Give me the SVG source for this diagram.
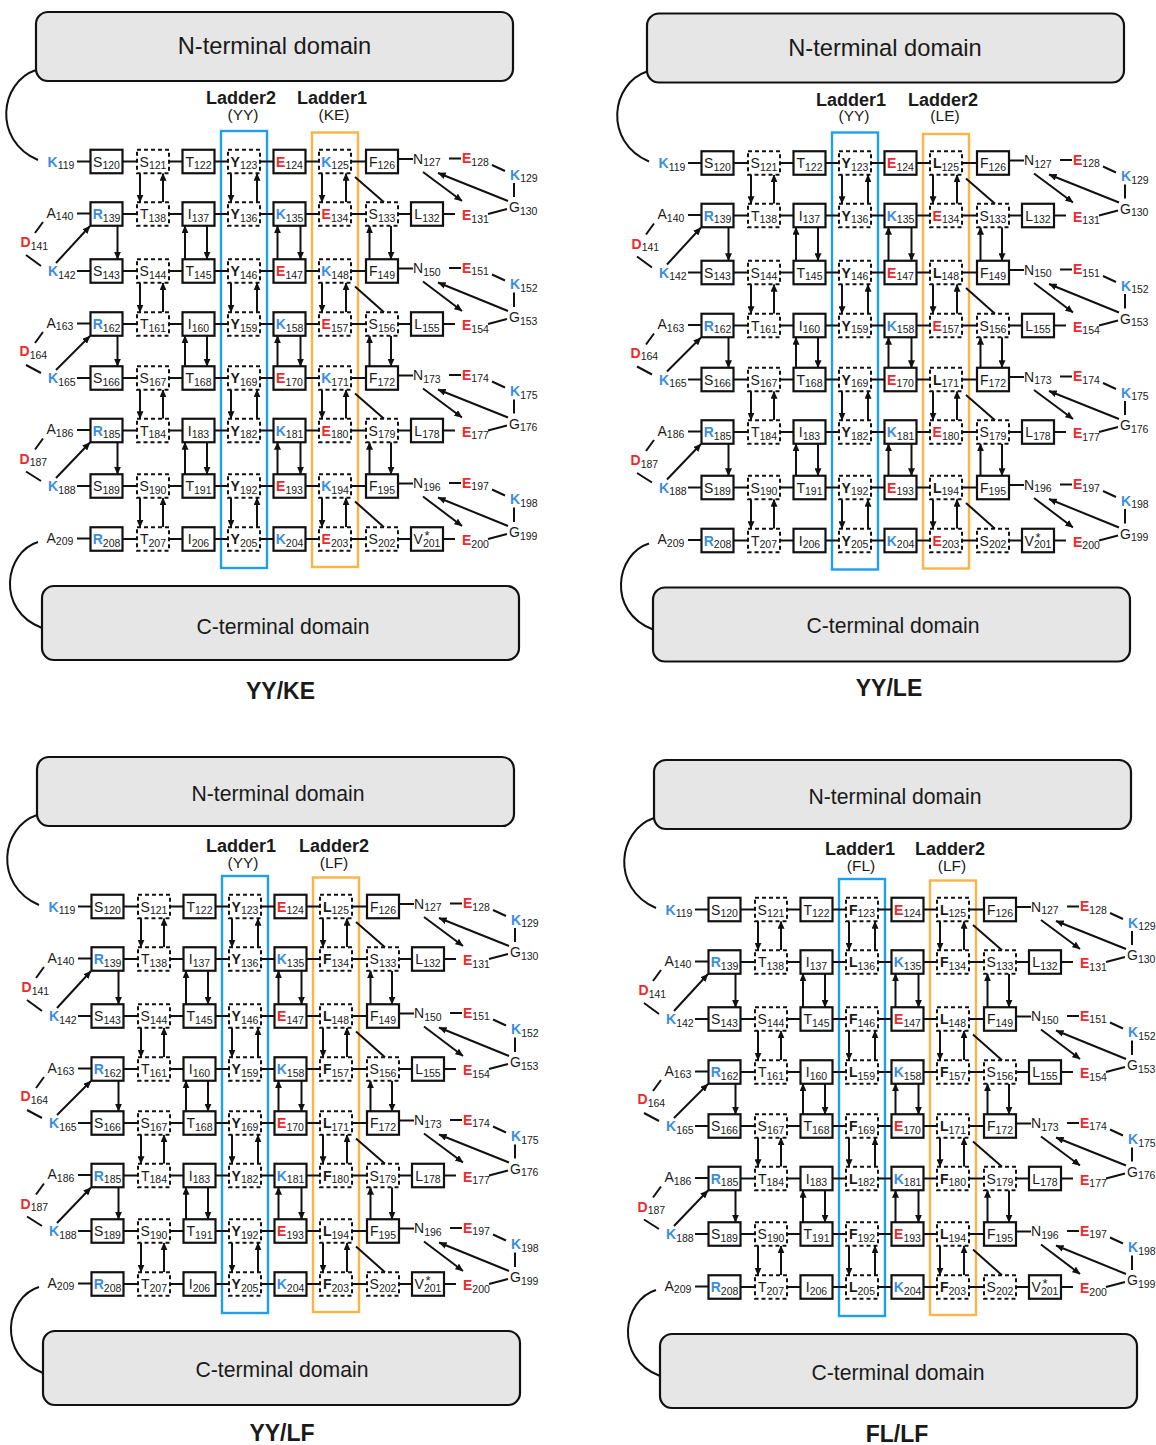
<svg xmlns="http://www.w3.org/2000/svg" xmlns:xlink="http://www.w3.org/1999/xlink" width="1156" height="1445" viewBox="0 0 1156 1445">
<defs>
<style>
text{font-family:"Liberation Sans",Arial,Helvetica,sans-serif;fill:#1a1a1a}
.b{fill:#fff;stroke:#111;stroke-width:2.2}
.d{fill:#fff;stroke:#111;stroke-width:2;stroke-dasharray:4 3}
.dom{fill:#e6e6e6;stroke:#111;stroke-width:2.2}
.ln{fill:none;stroke:#111;stroke-width:2}
.ar{fill:none;stroke:#111;stroke-width:2;marker-end:url(#ah)}
.lb{fill:none;stroke:#1fa0ee;stroke-width:2.4}
.lo{fill:none;stroke:#fdb348;stroke-width:2.4}
.t{font-size:14px;text-anchor:middle}
.l{font-size:14px}
.s{font-size:10.5px;font-weight:normal}
.k{fill:#3b8ede;font-weight:bold}
.e{fill:#ec2a2e;font-weight:bold}
.bd{font-weight:bold}
.ast{font-size:13px;text-anchor:middle}
.hd{font-size:18px;font-weight:bold;text-anchor:middle}
.hs{font-size:15.5px;text-anchor:middle}
.dn{font-size:21.2px;text-anchor:middle}
.dn2{font-size:23.7px;text-anchor:middle}
.ti{font-size:23px;font-weight:bold;text-anchor:middle}
</style>
<marker id="ah" viewBox="0 0 8 7" refX="7.6" refY="3.5" markerWidth="8" markerHeight="7" markerUnits="userSpaceOnUse" orient="auto">
<path d="M0 0L8 3.5L0 7z" fill="#111"/>
</marker>

<!-- shared layout of one β-solenoid panel: frames, connectors and the non-ladder residues -->
<g id="core">
<g id="frames">
<rect class="lb" x="221" y="131" width="46" height="437"/>
<rect class="lo" x="312" y="132.5" width="46" height="434.5"/>
</g>
<g id="connectors">
<!-- tethers to the domains -->
<path class="ln" d="M36 70C0 82 -8 140 38 160"/>
<path class="ln" d="M38 542C5 552 -5 610 42 628"/>
<!-- backbone links along each rung -->
<path class="ln" d="M77 161.5H90.5M122.5 161.5H137M169 161.5H182.5M214.5 161.5H228M260 161.5H273.5M305.5 161.5H319M351 161.5H366M398 159H413M449 158.5H461"/>
<path class="ln" d="M77 213.5H90.5M122.5 214H137M169 214H182.5M214.5 214H228M260 214H273.5M305.5 214H319M351 214H366M398 214H411M443 214H455"/>
<path class="ln" d="M77 271H90.5M122.5 271H137M169 271H182.5M214.5 271H228M260 271H273.5M305.5 271H319M351 271H366M398 268.5H413M449 268H461"/>
<path class="ln" d="M77 323.5H90.5M122.5 324H137M169 324H182.5M214.5 324H228M260 324H273.5M305.5 324H319M351 324H366M398 324H411M443 324H455"/>
<path class="ln" d="M77 378H90.5M122.5 378H137M169 378H182.5M214.5 378H228M260 378H273.5M305.5 378H319M351 378H366M398 375.5H413M449 375H461"/>
<path class="ln" d="M77 430H90.5M122.5 430.5H137M169 430.5H182.5M214.5 430.5H228M260 430.5H273.5M305.5 430.5H319M351 430.5H366M398 430.5H411M443 430.5H455"/>
<path class="ln" d="M77 486H90.5M122.5 486H137M169 486H182.5M214.5 486H228M260 486H273.5M305.5 486H319M351 486H366M398 483.5H413M449 483H461"/>
<path class="ln" d="M77 538.5H90.5M122.5 539H137M169 539H182.5M214.5 539H228M260 539H273.5M305.5 539H319M351 539H366M398 539H411M443 539H455"/>
<!-- turn loops on the right -->
<path class="ln" d="M492 165L505 171M514 183V197M507 209L488 214"/>
<path class="ln" d="M492 274.5L505 280.5M514 292.5V307M507 319L488 324"/>
<path class="ln" d="M492 381.5L505 387.5M514 399.5V413.5M507 425.5L488 430.5"/>
<path class="ln" d="M492 489.5L505 495.5M514 507.5V522M507 534L488 539"/>
<!-- diagonal contacts -->
<path class="ln" d="M355 177L384 202.25M355 286.5L384 312.25M355 393.5L384 418.75M355 501.5L384 527.25"/>
<!-- turn loops on the left -->
<path class="ln" d="M43 222L35 233M26 255L41 266M43 332L35 343M26 365L41 373M43 438.5L35 449.5M26 471.5L41 481"/>
<!-- stacking arrows, rungs 1-2 -->
<path class="ar" d="M140 173.25V202.25"/><path class="ar" d="M163 202.25V173.25"/>
<path class="ar" d="M231 173.25V202.25"/><path class="ar" d="M257 202.25V173.25"/>
<path class="ar" d="M322 173.25V202.25"/><path class="ar" d="M346 202.25V173.25"/>
<path class="ar" d="M423 172L462 201"/><path class="ar" d="M508 201L438 173"/>
<!-- rungs 2-3 -->
<path class="ar" d="M117.5 225.75V259.25"/>
<path class="ar" d="M185 259.25V225.75"/><path class="ar" d="M207 225.75V259.25"/>
<path class="ar" d="M277.5 259.25V225.75"/><path class="ar" d="M300.5 225.75V259.25"/>
<path class="ar" d="M369.5 259.25V225.75"/><path class="ar" d="M391 225.75V259.25"/>
<path class="ar" d="M56 263L90 226"/>
<!-- rungs 3-4 -->
<path class="ar" d="M140 282.75V312.25"/><path class="ar" d="M163 312.25V282.75"/>
<path class="ar" d="M231 282.75V312.25"/><path class="ar" d="M257 312.25V282.75"/>
<path class="ar" d="M322 282.75V312.25"/><path class="ar" d="M346 312.25V282.75"/>
<path class="ar" d="M423 281.5L462 311"/><path class="ar" d="M508 311L438 282.5"/>
<!-- rungs 4-5 -->
<path class="ar" d="M117.5 335.75V366.25"/>
<path class="ar" d="M185 366.25V335.75"/><path class="ar" d="M207 335.75V366.25"/>
<path class="ar" d="M277.5 366.25V335.75"/><path class="ar" d="M300.5 335.75V366.25"/>
<path class="ar" d="M369.5 366.25V335.75"/><path class="ar" d="M391 335.75V366.25"/>
<path class="ar" d="M56 370L90 336"/>
<!-- rungs 5-6 -->
<path class="ar" d="M140 389.75V418.75"/><path class="ar" d="M163 418.75V389.75"/>
<path class="ar" d="M231 389.75V418.75"/><path class="ar" d="M257 418.75V389.75"/>
<path class="ar" d="M322 389.75V418.75"/><path class="ar" d="M346 418.75V389.75"/>
<path class="ar" d="M423 388.5L462 417.5"/><path class="ar" d="M508 417.5L438 389.5"/>
<!-- rungs 6-7 -->
<path class="ar" d="M117.5 442.25V474.25"/>
<path class="ar" d="M185 474.25V442.25"/><path class="ar" d="M207 442.25V474.25"/>
<path class="ar" d="M277.5 474.25V442.25"/><path class="ar" d="M300.5 442.25V474.25"/>
<path class="ar" d="M369.5 474.25V442.25"/><path class="ar" d="M391 442.25V474.25"/>
<path class="ar" d="M56 478L90 442.5"/>
<!-- rungs 7-8 -->
<path class="ar" d="M140 497.75V527.25"/><path class="ar" d="M163 527.25V497.75"/>
<path class="ar" d="M231 497.75V527.25"/><path class="ar" d="M257 527.25V497.75"/>
<path class="ar" d="M322 497.75V527.25"/><path class="ar" d="M346 527.25V497.75"/>
<path class="ar" d="M423 496.5L462 526"/><path class="ar" d="M508 526L438 497.5"/>
</g>

<g id="residues">
<!-- rung 1 -->
<g id="n-k119"><text class="l" x="47.5" y="166.5"><tspan class="k">K</tspan><tspan class="s" dy="2.5">119</tspan></text></g>
<g id="n-s120"><rect class="b" x="90.5" y="149.75" width="32" height="23.5"/><text class="t" x="106.5" y="166.5">S<tspan class="s" dy="2.5">120</tspan></text></g>
<g id="n-s121"><rect class="d" x="137" y="149.75" width="32" height="23.5"/><text class="t" x="153" y="166.5">S<tspan class="s" dy="2.5">121</tspan></text></g>
<g id="n-t122"><rect class="b" x="182.5" y="149.75" width="32" height="23.5"/><text class="t" x="198.5" y="166.5">T<tspan class="s" dy="2.5">122</tspan></text></g>
<g id="n-e124"><rect class="b" x="273.5" y="149.75" width="32" height="23.5"/><text class="t" x="289.5" y="166.5"><tspan class="e">E</tspan><tspan class="s" dy="2.5">124</tspan></text></g>
<g id="n-f126"><rect class="b" x="366" y="149.75" width="32" height="23.5"/><text class="t" x="382" y="166.5">F<tspan class="s" dy="2.5">126</tspan></text></g>
<g id="n-n127"><text class="l" x="413" y="163.5">N<tspan class="s" dy="2.5">127</tspan></text></g>
<g id="n-e128"><text class="l" x="462" y="163"><tspan class="e">E</tspan><tspan class="s" dy="2.5">128</tspan></text></g>
<g id="n-k129"><text class="l" x="510" y="179.5"><tspan class="k">K</tspan><tspan class="s" dy="2.5">129</tspan></text></g>
<!-- rung 2 -->
<g id="n-a140"><text class="l" x="46.5" y="217.5">A<tspan class="s" dy="2.5">140</tspan></text></g>
<g id="n-d141"><text class="l" x="20.5" y="247"><tspan class="e">D</tspan><tspan class="s" dy="2.5">141</tspan></text></g>
<g id="n-r139"><rect class="b" x="90.5" y="202.25" width="32" height="23.5"/><text class="t" x="106.5" y="219"><tspan class="k">R</tspan><tspan class="s" dy="2.5">139</tspan></text></g>
<g id="n-t138"><rect class="d" x="137" y="202.25" width="32" height="23.5"/><text class="t" x="153" y="219">T<tspan class="s" dy="2.5">138</tspan></text></g>
<g id="n-i137"><rect class="b" x="182.5" y="202.25" width="32" height="23.5"/><text class="t" x="198.5" y="219">I<tspan class="s" dy="2.5">137</tspan></text></g>
<g id="n-k135"><rect class="b" x="273.5" y="202.25" width="32" height="23.5"/><text class="t" x="289.5" y="219"><tspan class="k">K</tspan><tspan class="s" dy="2.5">135</tspan></text></g>
<g id="n-s133"><rect class="d" x="366" y="202.25" width="32" height="23.5"/><text class="t" x="382" y="219">S<tspan class="s" dy="2.5">133</tspan></text></g>
<g id="n-l132"><rect class="b" x="411" y="202.25" width="32" height="23.5"/><text class="t" x="427" y="219">L<tspan class="s" dy="2.5">132</tspan></text></g>
<g id="n-e131"><text class="l" x="462" y="220"><tspan class="e">E</tspan><tspan class="s" dy="2.5">131</tspan></text></g>
<g id="n-g130"><text class="l" x="509" y="212">G<tspan class="s" dy="2.5">130</tspan></text></g>
<!-- rung 3 -->
<g id="n-k142"><text class="l" x="48" y="276"><tspan class="k">K</tspan><tspan class="s" dy="2.5">142</tspan></text></g>
<g id="n-s143"><rect class="b" x="90.5" y="259.25" width="32" height="23.5"/><text class="t" x="106.5" y="276">S<tspan class="s" dy="2.5">143</tspan></text></g>
<g id="n-s144"><rect class="d" x="137" y="259.25" width="32" height="23.5"/><text class="t" x="153" y="276">S<tspan class="s" dy="2.5">144</tspan></text></g>
<g id="n-t145"><rect class="b" x="182.5" y="259.25" width="32" height="23.5"/><text class="t" x="198.5" y="276">T<tspan class="s" dy="2.5">145</tspan></text></g>
<g id="n-e147"><rect class="b" x="273.5" y="259.25" width="32" height="23.5"/><text class="t" x="289.5" y="276"><tspan class="e">E</tspan><tspan class="s" dy="2.5">147</tspan></text></g>
<g id="n-f149"><rect class="b" x="366" y="259.25" width="32" height="23.5"/><text class="t" x="382" y="276">F<tspan class="s" dy="2.5">149</tspan></text></g>
<g id="n-n150"><text class="l" x="413" y="273">N<tspan class="s" dy="2.5">150</tspan></text></g>
<g id="n-e151"><text class="l" x="462" y="272.5"><tspan class="e">E</tspan><tspan class="s" dy="2.5">151</tspan></text></g>
<g id="n-k152"><text class="l" x="510" y="289"><tspan class="k">K</tspan><tspan class="s" dy="2.5">152</tspan></text></g>
<!-- rung 4 -->
<g id="n-a163"><text class="l" x="46.5" y="327.5">A<tspan class="s" dy="2.5">163</tspan></text></g>
<g id="n-d164"><text class="l" x="19.5" y="356"><tspan class="e">D</tspan><tspan class="s" dy="2.5">164</tspan></text></g>
<g id="n-r162"><rect class="b" x="90.5" y="312.25" width="32" height="23.5"/><text class="t" x="106.5" y="329"><tspan class="k">R</tspan><tspan class="s" dy="2.5">162</tspan></text></g>
<g id="n-t161"><rect class="d" x="137" y="312.25" width="32" height="23.5"/><text class="t" x="153" y="329">T<tspan class="s" dy="2.5">161</tspan></text></g>
<g id="n-i160"><rect class="b" x="182.5" y="312.25" width="32" height="23.5"/><text class="t" x="198.5" y="329">I<tspan class="s" dy="2.5">160</tspan></text></g>
<g id="n-k158"><rect class="b" x="273.5" y="312.25" width="32" height="23.5"/><text class="t" x="289.5" y="329"><tspan class="k">K</tspan><tspan class="s" dy="2.5">158</tspan></text></g>
<g id="n-s156"><rect class="d" x="366" y="312.25" width="32" height="23.5"/><text class="t" x="382" y="329">S<tspan class="s" dy="2.5">156</tspan></text></g>
<g id="n-l155"><rect class="b" x="411" y="312.25" width="32" height="23.5"/><text class="t" x="427" y="329">L<tspan class="s" dy="2.5">155</tspan></text></g>
<g id="n-e154"><text class="l" x="462" y="330"><tspan class="e">E</tspan><tspan class="s" dy="2.5">154</tspan></text></g>
<g id="n-g153"><text class="l" x="509" y="322">G<tspan class="s" dy="2.5">153</tspan></text></g>
<!-- rung 5 -->
<g id="n-k165"><text class="l" x="48" y="383"><tspan class="k">K</tspan><tspan class="s" dy="2.5">165</tspan></text></g>
<g id="n-s166"><rect class="b" x="90.5" y="366.25" width="32" height="23.5"/><text class="t" x="106.5" y="383">S<tspan class="s" dy="2.5">166</tspan></text></g>
<g id="n-s167"><rect class="d" x="137" y="366.25" width="32" height="23.5"/><text class="t" x="153" y="383">S<tspan class="s" dy="2.5">167</tspan></text></g>
<g id="n-t168"><rect class="b" x="182.5" y="366.25" width="32" height="23.5"/><text class="t" x="198.5" y="383">T<tspan class="s" dy="2.5">168</tspan></text></g>
<g id="n-e170"><rect class="b" x="273.5" y="366.25" width="32" height="23.5"/><text class="t" x="289.5" y="383"><tspan class="e">E</tspan><tspan class="s" dy="2.5">170</tspan></text></g>
<g id="n-f172"><rect class="b" x="366" y="366.25" width="32" height="23.5"/><text class="t" x="382" y="383">F<tspan class="s" dy="2.5">172</tspan></text></g>
<g id="n-n173"><text class="l" x="413" y="380">N<tspan class="s" dy="2.5">173</tspan></text></g>
<g id="n-e174"><text class="l" x="462" y="379.5"><tspan class="e">E</tspan><tspan class="s" dy="2.5">174</tspan></text></g>
<g id="n-k175"><text class="l" x="510" y="396"><tspan class="k">K</tspan><tspan class="s" dy="2.5">175</tspan></text></g>
<!-- rung 6 -->
<g id="n-a186"><text class="l" x="46.5" y="434">A<tspan class="s" dy="2.5">186</tspan></text></g>
<g id="n-d187"><text class="l" x="19.5" y="463.5"><tspan class="e">D</tspan><tspan class="s" dy="2.5">187</tspan></text></g>
<g id="n-r185"><rect class="b" x="90.5" y="418.75" width="32" height="23.5"/><text class="t" x="106.5" y="435.5"><tspan class="k">R</tspan><tspan class="s" dy="2.5">185</tspan></text></g>
<g id="n-t184"><rect class="d" x="137" y="418.75" width="32" height="23.5"/><text class="t" x="153" y="435.5">T<tspan class="s" dy="2.5">184</tspan></text></g>
<g id="n-i183"><rect class="b" x="182.5" y="418.75" width="32" height="23.5"/><text class="t" x="198.5" y="435.5">I<tspan class="s" dy="2.5">183</tspan></text></g>
<g id="n-k181"><rect class="b" x="273.5" y="418.75" width="32" height="23.5"/><text class="t" x="289.5" y="435.5"><tspan class="k">K</tspan><tspan class="s" dy="2.5">181</tspan></text></g>
<g id="n-s179"><rect class="d" x="366" y="418.75" width="32" height="23.5"/><text class="t" x="382" y="435.5">S<tspan class="s" dy="2.5">179</tspan></text></g>
<g id="n-l178"><rect class="b" x="411" y="418.75" width="32" height="23.5"/><text class="t" x="427" y="435.5">L<tspan class="s" dy="2.5">178</tspan></text></g>
<g id="n-e177"><text class="l" x="462" y="436.5"><tspan class="e">E</tspan><tspan class="s" dy="2.5">177</tspan></text></g>
<g id="n-g176"><text class="l" x="509" y="428.5">G<tspan class="s" dy="2.5">176</tspan></text></g>
<!-- rung 7 -->
<g id="n-k188"><text class="l" x="48" y="491"><tspan class="k">K</tspan><tspan class="s" dy="2.5">188</tspan></text></g>
<g id="n-s189"><rect class="b" x="90.5" y="474.25" width="32" height="23.5"/><text class="t" x="106.5" y="491">S<tspan class="s" dy="2.5">189</tspan></text></g>
<g id="n-s190"><rect class="d" x="137" y="474.25" width="32" height="23.5"/><text class="t" x="153" y="491">S<tspan class="s" dy="2.5">190</tspan></text></g>
<g id="n-t191"><rect class="b" x="182.5" y="474.25" width="32" height="23.5"/><text class="t" x="198.5" y="491">T<tspan class="s" dy="2.5">191</tspan></text></g>
<g id="n-e193"><rect class="b" x="273.5" y="474.25" width="32" height="23.5"/><text class="t" x="289.5" y="491"><tspan class="e">E</tspan><tspan class="s" dy="2.5">193</tspan></text></g>
<g id="n-f195"><rect class="b" x="366" y="474.25" width="32" height="23.5"/><text class="t" x="382" y="491">F<tspan class="s" dy="2.5">195</tspan></text></g>
<g id="n-n196"><text class="l" x="413" y="488">N<tspan class="s" dy="2.5">196</tspan></text></g>
<g id="n-e197"><text class="l" x="462" y="487.5"><tspan class="e">E</tspan><tspan class="s" dy="2.5">197</tspan></text></g>
<g id="n-k198"><text class="l" x="510" y="504"><tspan class="k">K</tspan><tspan class="s" dy="2.5">198</tspan></text></g>
<!-- rung 8 -->
<g id="n-a209"><text class="l" x="46.5" y="542.5">A<tspan class="s" dy="2.5">209</tspan></text></g>
<g id="n-r208"><rect class="b" x="90.5" y="527.25" width="32" height="23.5"/><text class="t" x="106.5" y="544"><tspan class="k">R</tspan><tspan class="s" dy="2.5">208</tspan></text></g>
<g id="n-t207"><rect class="d" x="137" y="527.25" width="32" height="23.5"/><text class="t" x="153" y="544">T<tspan class="s" dy="2.5">207</tspan></text></g>
<g id="n-i206"><rect class="b" x="182.5" y="527.25" width="32" height="23.5"/><text class="t" x="198.5" y="544">I<tspan class="s" dy="2.5">206</tspan></text></g>
<g id="n-k204"><rect class="b" x="273.5" y="527.25" width="32" height="23.5"/><text class="t" x="289.5" y="544"><tspan class="k">K</tspan><tspan class="s" dy="2.5">204</tspan></text></g>
<g id="n-s202"><rect class="d" x="366" y="527.25" width="32" height="23.5"/><text class="t" x="382" y="544">S<tspan class="s" dy="2.5">202</tspan></text></g>
<g id="n-v201"><rect class="b" x="411" y="527.25" width="32" height="23.5"/><text class="t" x="427" y="544">V<tspan class="s" dy="2.5">201</tspan></text><text class="ast" x="427" y="540">*</text></g>
<g id="n-e200"><text class="l" x="462" y="545"><tspan class="e">E</tspan><tspan class="s" dy="2.5">200</tspan></text></g>
<g id="n-g199"><text class="l" x="509" y="537">G<tspan class="s" dy="2.5">199</tspan></text></g>
</g>
</g>
</defs>

<rect width="1156" height="1445" fill="#fff"/>

<!-- YY/KE -->
<g id="panel-yy-ke">
<g id="p1-nterm"><rect class="dom" x="36" y="12" width="477" height="69" rx="12"/><text class="dn2" x="274.5" y="53.5">N-terminal domain</text></g>
<use href="#core" xlink:href="#core"/>
<g id="p1-cterm"><rect class="dom" x="42" y="586" width="477" height="74" rx="12"/><text class="dn" x="283" y="633.5">C-terminal domain</text></g>
<g id="p1-headers"><text class="hd" x="241" y="104">Ladder2</text><text class="hs" x="243" y="119.5">(YY)</text><text class="hd" x="332" y="104">Ladder1</text><text class="hs" x="334" y="119.5">(KE)</text></g>
<g id="p1-y123"><rect class="d" x="228" y="149.75" width="32" height="23.5"/><text class="t" x="244" y="166.5"><tspan class="bd">Y</tspan><tspan class="s" dy="2.5">123</tspan></text></g>
<g id="p1-y136"><rect class="d" x="228" y="202.25" width="32" height="23.5"/><text class="t" x="244" y="219"><tspan class="bd">Y</tspan><tspan class="s" dy="2.5">136</tspan></text></g>
<g id="p1-y146"><rect class="d" x="228" y="259.25" width="32" height="23.5"/><text class="t" x="244" y="276"><tspan class="bd">Y</tspan><tspan class="s" dy="2.5">146</tspan></text></g>
<g id="p1-y159"><rect class="d" x="228" y="312.25" width="32" height="23.5"/><text class="t" x="244" y="329"><tspan class="bd">Y</tspan><tspan class="s" dy="2.5">159</tspan></text></g>
<g id="p1-y169"><rect class="d" x="228" y="366.25" width="32" height="23.5"/><text class="t" x="244" y="383"><tspan class="bd">Y</tspan><tspan class="s" dy="2.5">169</tspan></text></g>
<g id="p1-y182"><rect class="d" x="228" y="418.75" width="32" height="23.5"/><text class="t" x="244" y="435.5"><tspan class="bd">Y</tspan><tspan class="s" dy="2.5">182</tspan></text></g>
<g id="p1-y192"><rect class="d" x="228" y="474.25" width="32" height="23.5"/><text class="t" x="244" y="491"><tspan class="bd">Y</tspan><tspan class="s" dy="2.5">192</tspan></text></g>
<g id="p1-y205"><rect class="d" x="228" y="527.25" width="32" height="23.5"/><text class="t" x="244" y="544"><tspan class="bd">Y</tspan><tspan class="s" dy="2.5">205</tspan></text></g>
<g id="p1-k125"><rect class="d" x="319" y="149.75" width="32" height="23.5"/><text class="t" x="335" y="166.5"><tspan class="k">K</tspan><tspan class="s" dy="2.5">125</tspan></text></g>
<g id="p1-e134"><rect class="d" x="319" y="202.25" width="32" height="23.5"/><text class="t" x="335" y="219"><tspan class="e">E</tspan><tspan class="s" dy="2.5">134</tspan></text></g>
<g id="p1-k148"><rect class="d" x="319" y="259.25" width="32" height="23.5"/><text class="t" x="335" y="276"><tspan class="k">K</tspan><tspan class="s" dy="2.5">148</tspan></text></g>
<g id="p1-e157"><rect class="d" x="319" y="312.25" width="32" height="23.5"/><text class="t" x="335" y="329"><tspan class="e">E</tspan><tspan class="s" dy="2.5">157</tspan></text></g>
<g id="p1-k171"><rect class="d" x="319" y="366.25" width="32" height="23.5"/><text class="t" x="335" y="383"><tspan class="k">K</tspan><tspan class="s" dy="2.5">171</tspan></text></g>
<g id="p1-e180"><rect class="d" x="319" y="418.75" width="32" height="23.5"/><text class="t" x="335" y="435.5"><tspan class="e">E</tspan><tspan class="s" dy="2.5">180</tspan></text></g>
<g id="p1-k194"><rect class="d" x="319" y="474.25" width="32" height="23.5"/><text class="t" x="335" y="491"><tspan class="k">K</tspan><tspan class="s" dy="2.5">194</tspan></text></g>
<g id="p1-e203"><rect class="d" x="319" y="527.25" width="32" height="23.5"/><text class="t" x="335" y="544"><tspan class="e">E</tspan><tspan class="s" dy="2.5">203</tspan></text></g>
<text id="p1-title" class="ti" x="280.5" y="699">YY/KE</text>
</g>

<!-- YY/LE -->
<g id="panel-yy-le" transform="translate(611 1.5)">
<g id="p2-nterm"><rect class="dom" x="36" y="12" width="477" height="69" rx="12"/><text class="dn2" x="274" y="54">N-terminal domain</text></g>
<use href="#core" xlink:href="#core"/>
<g id="p2-cterm"><rect class="dom" x="42" y="586" width="477" height="74" rx="12"/><text class="dn" x="282" y="631">C-terminal domain</text></g>
<g id="p2-headers"><text class="hd" x="240" y="104">Ladder1</text><text class="hs" x="243" y="119.5">(YY)</text><text class="hd" x="332" y="104">Ladder2</text><text class="hs" x="334" y="119.5">(LE)</text></g>
<g id="p2-y123"><rect class="d" x="228" y="149.75" width="32" height="23.5"/><text class="t" x="244" y="166.5"><tspan class="bd">Y</tspan><tspan class="s" dy="2.5">123</tspan></text></g>
<g id="p2-y136"><rect class="d" x="228" y="202.25" width="32" height="23.5"/><text class="t" x="244" y="219"><tspan class="bd">Y</tspan><tspan class="s" dy="2.5">136</tspan></text></g>
<g id="p2-y146"><rect class="d" x="228" y="259.25" width="32" height="23.5"/><text class="t" x="244" y="276"><tspan class="bd">Y</tspan><tspan class="s" dy="2.5">146</tspan></text></g>
<g id="p2-y159"><rect class="d" x="228" y="312.25" width="32" height="23.5"/><text class="t" x="244" y="329"><tspan class="bd">Y</tspan><tspan class="s" dy="2.5">159</tspan></text></g>
<g id="p2-y169"><rect class="d" x="228" y="366.25" width="32" height="23.5"/><text class="t" x="244" y="383"><tspan class="bd">Y</tspan><tspan class="s" dy="2.5">169</tspan></text></g>
<g id="p2-y182"><rect class="d" x="228" y="418.75" width="32" height="23.5"/><text class="t" x="244" y="435.5"><tspan class="bd">Y</tspan><tspan class="s" dy="2.5">182</tspan></text></g>
<g id="p2-y192"><rect class="d" x="228" y="474.25" width="32" height="23.5"/><text class="t" x="244" y="491"><tspan class="bd">Y</tspan><tspan class="s" dy="2.5">192</tspan></text></g>
<g id="p2-y205"><rect class="d" x="228" y="527.25" width="32" height="23.5"/><text class="t" x="244" y="544"><tspan class="bd">Y</tspan><tspan class="s" dy="2.5">205</tspan></text></g>
<g id="p2-l125"><rect class="d" x="319" y="149.75" width="32" height="23.5"/><text class="t" x="335" y="166.5"><tspan class="bd">L</tspan><tspan class="s" dy="2.5">125</tspan></text></g>
<g id="p2-e134"><rect class="d" x="319" y="202.25" width="32" height="23.5"/><text class="t" x="335" y="219"><tspan class="e">E</tspan><tspan class="s" dy="2.5">134</tspan></text></g>
<g id="p2-l148"><rect class="d" x="319" y="259.25" width="32" height="23.5"/><text class="t" x="335" y="276"><tspan class="bd">L</tspan><tspan class="s" dy="2.5">148</tspan></text></g>
<g id="p2-e157"><rect class="d" x="319" y="312.25" width="32" height="23.5"/><text class="t" x="335" y="329"><tspan class="e">E</tspan><tspan class="s" dy="2.5">157</tspan></text></g>
<g id="p2-l171"><rect class="d" x="319" y="366.25" width="32" height="23.5"/><text class="t" x="335" y="383"><tspan class="bd">L</tspan><tspan class="s" dy="2.5">171</tspan></text></g>
<g id="p2-e180"><rect class="d" x="319" y="418.75" width="32" height="23.5"/><text class="t" x="335" y="435.5"><tspan class="e">E</tspan><tspan class="s" dy="2.5">180</tspan></text></g>
<g id="p2-l194"><rect class="d" x="319" y="474.25" width="32" height="23.5"/><text class="t" x="335" y="491"><tspan class="bd">L</tspan><tspan class="s" dy="2.5">194</tspan></text></g>
<g id="p2-e203"><rect class="d" x="319" y="527.25" width="32" height="23.5"/><text class="t" x="335" y="544"><tspan class="e">E</tspan><tspan class="s" dy="2.5">203</tspan></text></g>
<text id="p2-title" class="ti" x="278" y="694.5">YY/LE</text>
</g>

<!-- YY/LF -->
<g id="panel-yy-lf" transform="translate(1 745)">
<g id="p3-nterm"><rect class="dom" x="36" y="12" width="477" height="69" rx="12"/><text class="dn" x="277" y="55.5">N-terminal domain</text></g>
<use href="#core" xlink:href="#core"/>
<g id="p3-cterm"><rect class="dom" x="42" y="586" width="477" height="74" rx="12"/><text class="dn" x="281" y="631.5">C-terminal domain</text></g>
<g id="p3-headers"><text class="hd" x="240" y="107">Ladder1</text><text class="hs" x="242" y="122.5">(YY)</text><text class="hd" x="333" y="107">Ladder2</text><text class="hs" x="333" y="122.5">(LF)</text></g>
<g id="p3-y123"><rect class="d" x="228" y="149.75" width="32" height="23.5"/><text class="t" x="244" y="166.5"><tspan class="bd">Y</tspan><tspan class="s" dy="2.5">123</tspan></text></g>
<g id="p3-y136"><rect class="d" x="228" y="202.25" width="32" height="23.5"/><text class="t" x="244" y="219"><tspan class="bd">Y</tspan><tspan class="s" dy="2.5">136</tspan></text></g>
<g id="p3-y146"><rect class="d" x="228" y="259.25" width="32" height="23.5"/><text class="t" x="244" y="276"><tspan class="bd">Y</tspan><tspan class="s" dy="2.5">146</tspan></text></g>
<g id="p3-y159"><rect class="d" x="228" y="312.25" width="32" height="23.5"/><text class="t" x="244" y="329"><tspan class="bd">Y</tspan><tspan class="s" dy="2.5">159</tspan></text></g>
<g id="p3-y169"><rect class="d" x="228" y="366.25" width="32" height="23.5"/><text class="t" x="244" y="383"><tspan class="bd">Y</tspan><tspan class="s" dy="2.5">169</tspan></text></g>
<g id="p3-y182"><rect class="d" x="228" y="418.75" width="32" height="23.5"/><text class="t" x="244" y="435.5"><tspan class="bd">Y</tspan><tspan class="s" dy="2.5">182</tspan></text></g>
<g id="p3-y192"><rect class="d" x="228" y="474.25" width="32" height="23.5"/><text class="t" x="244" y="491"><tspan class="bd">Y</tspan><tspan class="s" dy="2.5">192</tspan></text></g>
<g id="p3-y205"><rect class="d" x="228" y="527.25" width="32" height="23.5"/><text class="t" x="244" y="544"><tspan class="bd">Y</tspan><tspan class="s" dy="2.5">205</tspan></text></g>
<g id="p3-l125"><rect class="d" x="319" y="149.75" width="32" height="23.5"/><text class="t" x="335" y="166.5"><tspan class="bd">L</tspan><tspan class="s" dy="2.5">125</tspan></text></g>
<g id="p3-f134"><rect class="d" x="319" y="202.25" width="32" height="23.5"/><text class="t" x="335" y="219"><tspan class="bd">F</tspan><tspan class="s" dy="2.5">134</tspan></text></g>
<g id="p3-l148"><rect class="d" x="319" y="259.25" width="32" height="23.5"/><text class="t" x="335" y="276"><tspan class="bd">L</tspan><tspan class="s" dy="2.5">148</tspan></text></g>
<g id="p3-f157"><rect class="d" x="319" y="312.25" width="32" height="23.5"/><text class="t" x="335" y="329"><tspan class="bd">F</tspan><tspan class="s" dy="2.5">157</tspan></text></g>
<g id="p3-l171"><rect class="d" x="319" y="366.25" width="32" height="23.5"/><text class="t" x="335" y="383"><tspan class="bd">L</tspan><tspan class="s" dy="2.5">171</tspan></text></g>
<g id="p3-f180"><rect class="d" x="319" y="418.75" width="32" height="23.5"/><text class="t" x="335" y="435.5"><tspan class="bd">F</tspan><tspan class="s" dy="2.5">180</tspan></text></g>
<g id="p3-l194"><rect class="d" x="319" y="474.25" width="32" height="23.5"/><text class="t" x="335" y="491"><tspan class="bd">L</tspan><tspan class="s" dy="2.5">194</tspan></text></g>
<g id="p3-f203"><rect class="d" x="319" y="527.25" width="32" height="23.5"/><text class="t" x="335" y="544"><tspan class="bd">F</tspan><tspan class="s" dy="2.5">203</tspan></text></g>
<text id="p3-title" class="ti" x="281" y="696">YY/LF</text>
</g>

<!-- FL/LF -->
<g id="panel-fl-lf" transform="translate(618 748)">
<g id="p4-nterm"><rect class="dom" x="36" y="12" width="477" height="69" rx="12"/><text class="dn" x="277" y="55.5">N-terminal domain</text></g>
<use href="#core" xlink:href="#core"/>
<g id="p4-cterm"><rect class="dom" x="42" y="586" width="477" height="74" rx="12"/><text class="dn" x="280" y="631.5">C-terminal domain</text></g>
<g id="p4-headers"><text class="hd" x="242" y="107">Ladder1</text><text class="hs" x="243" y="122.5">(FL)</text><text class="hd" x="332" y="107">Ladder2</text><text class="hs" x="334" y="122.5">(LF)</text></g>
<g id="p4-f123"><rect class="d" x="228" y="149.75" width="32" height="23.5"/><text class="t" x="244" y="166.5"><tspan class="bd">F</tspan><tspan class="s" dy="2.5">123</tspan></text></g>
<g id="p4-l136"><rect class="d" x="228" y="202.25" width="32" height="23.5"/><text class="t" x="244" y="219"><tspan class="bd">L</tspan><tspan class="s" dy="2.5">136</tspan></text></g>
<g id="p4-f146"><rect class="d" x="228" y="259.25" width="32" height="23.5"/><text class="t" x="244" y="276"><tspan class="bd">F</tspan><tspan class="s" dy="2.5">146</tspan></text></g>
<g id="p4-l159"><rect class="d" x="228" y="312.25" width="32" height="23.5"/><text class="t" x="244" y="329"><tspan class="bd">L</tspan><tspan class="s" dy="2.5">159</tspan></text></g>
<g id="p4-f169"><rect class="d" x="228" y="366.25" width="32" height="23.5"/><text class="t" x="244" y="383"><tspan class="bd">F</tspan><tspan class="s" dy="2.5">169</tspan></text></g>
<g id="p4-l182"><rect class="d" x="228" y="418.75" width="32" height="23.5"/><text class="t" x="244" y="435.5"><tspan class="bd">L</tspan><tspan class="s" dy="2.5">182</tspan></text></g>
<g id="p4-f192"><rect class="d" x="228" y="474.25" width="32" height="23.5"/><text class="t" x="244" y="491"><tspan class="bd">F</tspan><tspan class="s" dy="2.5">192</tspan></text></g>
<g id="p4-l205"><rect class="d" x="228" y="527.25" width="32" height="23.5"/><text class="t" x="244" y="544"><tspan class="bd">L</tspan><tspan class="s" dy="2.5">205</tspan></text></g>
<g id="p4-l125"><rect class="d" x="319" y="149.75" width="32" height="23.5"/><text class="t" x="335" y="166.5"><tspan class="bd">L</tspan><tspan class="s" dy="2.5">125</tspan></text></g>
<g id="p4-f134"><rect class="d" x="319" y="202.25" width="32" height="23.5"/><text class="t" x="335" y="219"><tspan class="bd">F</tspan><tspan class="s" dy="2.5">134</tspan></text></g>
<g id="p4-l148"><rect class="d" x="319" y="259.25" width="32" height="23.5"/><text class="t" x="335" y="276"><tspan class="bd">L</tspan><tspan class="s" dy="2.5">148</tspan></text></g>
<g id="p4-f157"><rect class="d" x="319" y="312.25" width="32" height="23.5"/><text class="t" x="335" y="329"><tspan class="bd">F</tspan><tspan class="s" dy="2.5">157</tspan></text></g>
<g id="p4-l171"><rect class="d" x="319" y="366.25" width="32" height="23.5"/><text class="t" x="335" y="383"><tspan class="bd">L</tspan><tspan class="s" dy="2.5">171</tspan></text></g>
<g id="p4-f180"><rect class="d" x="319" y="418.75" width="32" height="23.5"/><text class="t" x="335" y="435.5"><tspan class="bd">F</tspan><tspan class="s" dy="2.5">180</tspan></text></g>
<g id="p4-l194"><rect class="d" x="319" y="474.25" width="32" height="23.5"/><text class="t" x="335" y="491"><tspan class="bd">L</tspan><tspan class="s" dy="2.5">194</tspan></text></g>
<g id="p4-f203"><rect class="d" x="319" y="527.25" width="32" height="23.5"/><text class="t" x="335" y="544"><tspan class="bd">F</tspan><tspan class="s" dy="2.5">203</tspan></text></g>
<text id="p4-title" class="ti" x="279" y="693.5">FL/LF</text>
</g>
</svg>
